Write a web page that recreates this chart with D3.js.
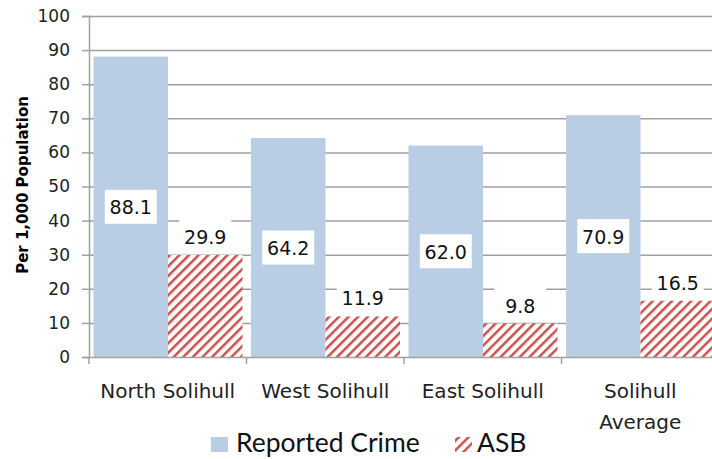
<!DOCTYPE html>
<html><head><meta charset="utf-8">
<script src="https://cdn.jsdelivr.net/npm/d3@7"></script>
<style>body{margin:0;background:#fff;}svg{display:block;}</style>
</head><body>
<svg id="c" width="712" height="459"></svg>
<script>
const categories = ["North Solihull","West Solihull","East Solihull","Solihull Average"];
const crime = [88.1, 64.2, 62.0, 70.9];
const asb = [29.9, 11.9, 9.8, 16.5];
const yTicks = [0,10,20,30,40,50,60,70,80,90,100];
const seriesNames = ["Reported Crime","ASB"];

(function(){
const svg = d3.select("#c");
const pLeft = 89, pRight = 719, pTop = 16, pBottom = 357;
const x = d3.scaleBand().domain(categories).range([pLeft, pRight]).padding(0);
const sub = d3.scaleBand().domain(["crime","asb"]).range([4.5, x.bandwidth()-4]).padding(0);
const y = d3.scaleLinear().domain([0,100]).range([pBottom, pTop]);

const defs = svg.append("defs");
const pat = defs.append("pattern").attr("id","hatch").attr("patternUnits","userSpaceOnUse")
  .attr("width",6.8).attr("height",8).attr("patternTransform","rotate(45)");
pat.append("rect").attr("width",6.8).attr("height",8).attr("fill","#fff");
pat.append("rect").attr("x",0).attr("y",0).attr("width",2.5).attr("height",8).attr("fill","#c9504d");

// gridlines
svg.append("g").selectAll("line").data(yTicks.filter(d=>d>0)).join("line")
  .attr("x1",pLeft).attr("x2",712).attr("y1",d=>y(d)+0.5).attr("y2",d=>y(d)+0.5)
  .attr("stroke","#a0a0a0").attr("stroke-width",1.5);

// y axis
const yAxis = d3.axisLeft(y).tickValues(yTicks).tickSize(7).tickPadding(12);
const gy = svg.append("g").attr("transform",`translate(${pLeft},0)`).call(yAxis);
gy.select(".domain").attr("stroke","#a0a0a0").attr("stroke-width",1.5);
gy.selectAll(".tick line").attr("stroke","#a0a0a0").attr("stroke-width",1.5);
gy.selectAll("text").attr("font-family","DejaVu Sans").attr("font-size",17).attr("fill","#222");

// bars
const g = svg.append("g");
g.selectAll(".crime").data(categories).join("rect").attr("class","crime")
  .attr("x",(d)=>x(d)+sub("crime")).attr("width",sub.bandwidth())
  .attr("y",(d,i)=>y(crime[i])).attr("height",(d,i)=>y(0)-y(crime[i]))
  .attr("fill","#b9cde5");
g.selectAll(".asb").data(categories).join("rect").attr("class","asb")
  .attr("x",(d)=>x(d)+sub("asb")).attr("width",sub.bandwidth())
  .attr("y",(d,i)=>y(asb[i])).attr("height",(d,i)=>y(0)-y(asb[i]))
  .attr("fill","url(#hatch)");

// x axis
const xAxis = d3.axisBottom(x).tickSize(0).tickFormat("");
const gx = svg.append("g").attr("transform",`translate(0,${pBottom})`).call(xAxis);
gx.select(".domain").attr("stroke","#a0a0a0").attr("stroke-width",1.5);
gx.selectAll(".tick").remove();
svg.append("g").selectAll("line").data(categories).join("line")
  .attr("x1",d=>x(d)).attr("x2",d=>x(d)).attr("y1",pBottom).attr("y2",pBottom+7)
  .attr("stroke","#a0a0a0").attr("stroke-width",1.5);

// category labels
svg.append("g").selectAll("text").data(categories).join("text")
  .attr("x",d=>x(d)+x.bandwidth()/2).attr("y",398)
  .attr("text-anchor","middle").attr("font-family","DejaVu Sans").attr("font-size",20).attr("fill","#222")
  .each(function(d){
    const t = d3.select(this);
    const parts = d === "Solihull Average" ? ["Solihull","Average"] : [d];
    parts.forEach((p,j)=>t.append("tspan").attr("x",x(d)+x.bandwidth()/2).attr("dy",j?31:0).text(p));
  });

// value labels
const lab = svg.append("g");
categories.forEach((c,i)=>{
  const cx = x(c)+sub("crime")+sub.bandwidth()/2;
  const cy = (y(crime[i])+y(0))/2;
  lab.append("rect").attr("x",cx-26).attr("y",cy-17).attr("width",52).attr("height",34).attr("fill","#fff");
  lab.append("text").attr("x",cx).attr("y",cy+7.5).attr("text-anchor","middle")
    .attr("font-family","DejaVu Sans").attr("font-size",19).attr("fill","#111").text(crime[i].toFixed(1));
  const ax = x(c)+sub("asb")+sub.bandwidth()/2;
  const ay = y(asb[i]);
  lab.append("rect").attr("x",ax-26).attr("y",ay-36).attr("width",52).attr("height",34).attr("fill","#fff");
  lab.append("text").attr("x",ax).attr("y",ay-11).attr("text-anchor","middle")
    .attr("font-family","DejaVu Sans").attr("font-size",19).attr("fill","#111").text(asb[i].toFixed(1));
});

// y title
svg.append("text").attr("transform","translate(28,185) rotate(-90)").attr("text-anchor","middle")
  .attr("font-family","DejaVu Sans").attr("font-weight","bold").attr("font-size",15).attr("fill","#000")
  .text("Per 1,000 Population");

// legend
const lg = svg.append("g");
lg.append("rect").attr("x",211).attr("y",437).attr("width",17).attr("height",15).attr("fill","#b9cde5");
lg.append("text").attr("x",236).attr("y",452).attr("font-family","Lato").attr("font-size",26.5).attr("fill","#111").text(seriesNames[0]);
lg.append("rect").attr("x",455).attr("y",437).attr("width",17).attr("height",15).attr("fill","url(#hatch)");
lg.append("text").attr("x",477).attr("y",452).attr("font-family","Lato").attr("font-size",26.5).attr("fill","#111").text(seriesNames[1]);
})();
</script>
</body></html>
